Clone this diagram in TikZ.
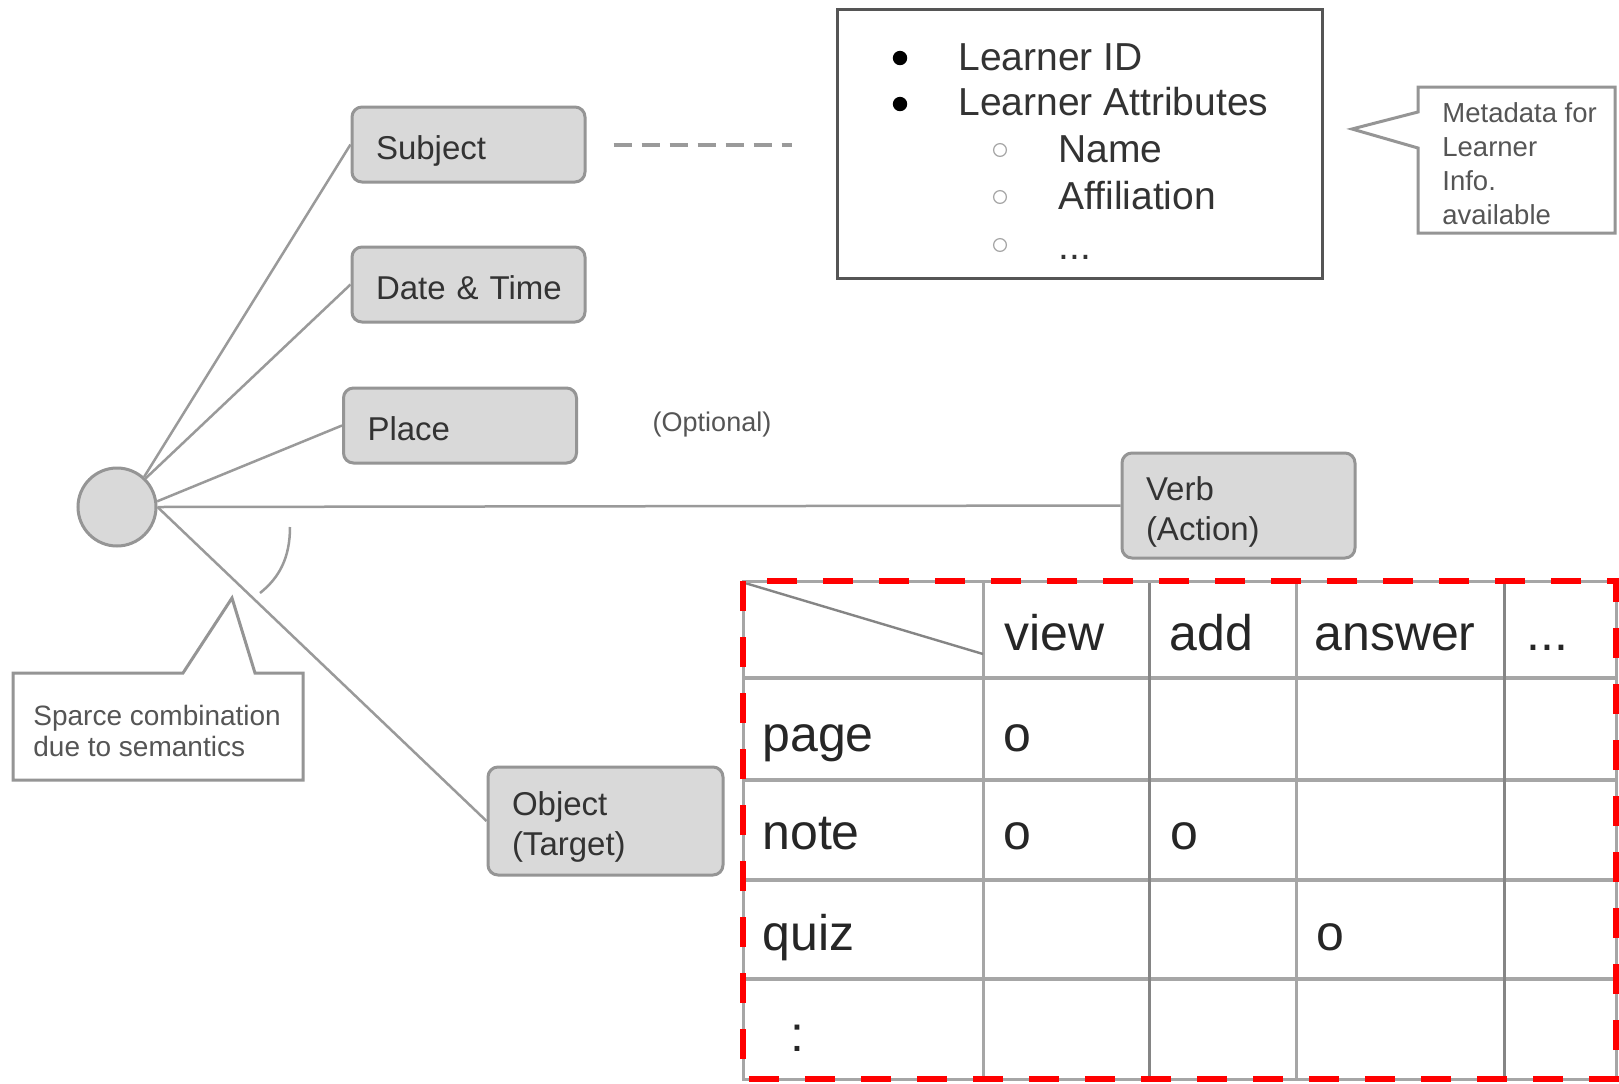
\documentclass[tikz,border=0pt]{standalone}
\usepackage{fontspec}
\setmainfont{Liberation Sans}
\definecolor{boxfill}{HTML}{D9D9D9}
\definecolor{boxline}{HTML}{959595}
\definecolor{wire}{HTML}{9A9A9A}
\definecolor{txt}{HTML}{333333}
\definecolor{soft}{HTML}{555555}
\definecolor{gridA}{HTML}{A6A6A6}
\definecolor{gridB}{HTML}{858585}
\definecolor{dashred}{HTML}{FF0000}
\begin{document}
\begin{tikzpicture}[x=0.5pt,y=-0.5pt,
  every node/.style={inner sep=0pt},
  facet/.style={draw=boxline, fill=boxfill, line width=1.5pt, rounded corners=5pt,
    align=left, inner xsep=12pt, inner ysep=0pt, text width=92.5pt,
    font=\fontsize{16.5}{20}\selectfont, text=txt,
    text height=14.5pt, text depth=0pt},
  twoline/.style={text height=12pt, text depth=17.5pt},
  wireline/.style={draw=wire, line width=1.25pt},
  note/.style={draw=boxline, fill=white, line width=1.5pt},
  notetext/.style={anchor=north west, align=left, text=soft},
  listtext/.style={anchor=base west, font=\fontsize{19.5}{23}\selectfont, text=txt},
  celltext/.style={anchor=base west, font=\fontsize{25}{30}\selectfont, text=black!85},
]
\useasboundingbox (0,0) rectangle (1619,1083);
\fill[white] (0,0) rectangle (1619,1083);

% central hub and the five facets
\node[circle, draw=boxline, fill=boxfill, line width=1.5pt, minimum size=39pt] (hub) at (117,507) {};
\node[facet, minimum height=37.5pt] (subj) at (468.5,144.5) {Subject};
\node[facet, minimum height=37.5pt] (date) at (468.5,284.5) {Date~\&~Time};
\node[facet, minimum height=37.5pt] (place) at (460,425.5) {Place};
\node[facet, twoline, minimum height=52.5pt] (verb) at (1238.5,505.5) {Verb\\(Action)};
\node[facet, twoline, minimum height=54pt, text width=93.5pt] (obj) at (605.5,821) {Object\\(Target)};

\draw[wireline] (hub.48) -- (subj.west);
\draw[wireline] (hub.45) -- (date.west);
\draw[wireline] (hub.8) -- (place.west);
\draw[wireline] (hub.east) -- (verb.west);
\draw[wireline] (hub.east) -- (obj.west);

% angle mark between verb and object
\draw[wireline] (290,527) .. controls (290,558) and (279,578) .. (260,593);

\node[font=\fontsize{13.5}{15}\selectfont, text=soft] (opt) at (712,425) {(Optional)};

% learner information box
\node[draw=soft, line width=1.5pt, minimum width=242.5pt, minimum height=134.5pt] (learner) at (1079.5,143.5) {};
\draw[draw=wire, line width=2pt, dash pattern=on 9pt off 5pt, shorten <=13.5pt, shorten >=22pt]
  (subj.east) -- (subj.east -| learner.west);
\fill[black] (900,58) circle (3.6pt);
\fill[black] (900,104) circle (3.6pt);
\draw[gridA, line width=0.6pt] (1000,150) circle (3.2pt);
\draw[gridA, line width=0.6pt] (1000,197) circle (3.2pt);
\draw[gridA, line width=0.6pt] (1000,245) circle (3.2pt);
\node[listtext] (lid) at (958,70) {Learner ID};
\node[listtext] (lattr) at (958,115) {Learner Attributes};
\node[listtext] (lname) at (1058,162) {Name};
\node[listtext] (laff) at (1058,209) {Affiliation};
\node[listtext] (lmore) at (1058,259) {...};

% callout on the learner box
\draw[note] (1418,87) -- (1615,87) -- (1615,233) -- (1418,233) -- (1418,148)
  -- (1352,129) -- (1418,112) -- cycle;
\node[notetext, font=\fontsize{13.75}{17}\selectfont] (meta) at (1442,102)
  {Metadata for\\Learner\\Info.\\available};

% callout on the angle mark
\draw[note] (13,673) -- (183,673) -- (232,598) -- (255,673) -- (303,673)
  -- (303,780) -- (13,780) -- cycle;
\node[notetext, font=\fontsize{14}{15.5}\selectfont] (sparse) at (33,705)
  {Sparce combination\\due to semantics};

% verb / object combination table
\foreach \yy in {678,780,880,979} \draw[gridA, line width=1.6pt] (743,\yy) -- (1616,\yy);
\foreach \xx in {983,1296} \draw[gridA, line width=1.5pt] (\xx,581) -- (\xx,1079);
\foreach \xx in {1149,1504} \draw[gridB, line width=1.5pt] (\xx,581) -- (\xx,1079);
\draw[gridB, line width=1.2pt] (745,583) -- (983,654);
\draw[gridA, line width=1.5pt] (743,581) rectangle (1616,1079);
\draw[dashred, line width=3pt, dash pattern=on 15pt off 13pt] (743,581) rectangle (1616,1079);

\node[celltext] (hview) at (1004,650) {view};
\node[celltext] (hadd) at (1169,650) {add};
\node[celltext] (hans) at (1314,650) {answer};
\node[celltext] (hmore) at (1526,650) {...};
\node[celltext] (rpage) at (762,751) {page};
\node[celltext] (rnote) at (762,849) {note};
\node[celltext] (rquiz) at (762,950) {quiz};
\node[celltext] (rmore) at (790,1051) {:};
\node[celltext] (c11) at (1003,751) {o};
\node[celltext] (c21) at (1003,849) {o};
\node[celltext] (c22) at (1170,849) {o};
\node[celltext] (c33) at (1316,950) {o};
\end{tikzpicture}
\end{document}
